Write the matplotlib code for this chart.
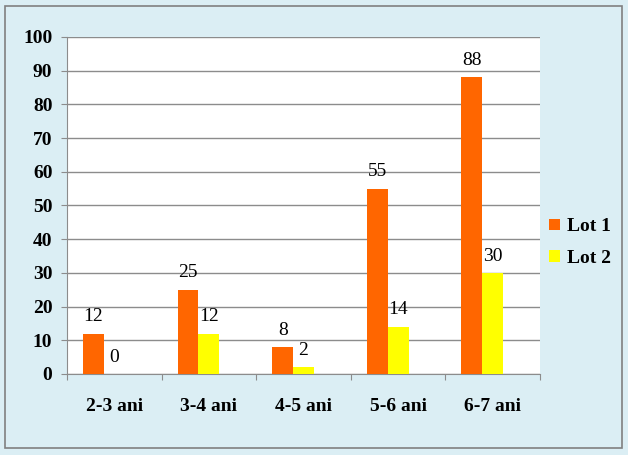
import matplotlib
matplotlib.use('Agg')
import matplotlib.pyplot as plt
from matplotlib.patches import Rectangle
import numpy as np

plt.rcParams['font.family'] = 'Liberation Serif'

# date
categorii = ['2-3 ani', '3-4 ani', '4-5 ani', '5-6 ani', '6-7 ani']
lot1 = [12, 25, 8, 55, 88]
lot2 = [0, 12, 2, 14, 30]

fig = plt.figure(figsize=(6.28, 4.55), dpi=100)
fig.patch.set_facecolor('#DBEEF4')
fig.patches.append(Rectangle((0.008, 0.015), 0.982, 0.972, transform=fig.transFigure,
                             fill=False, edgecolor='#808080', linewidth=1.2))

ax = fig.add_axes([67/628, 1-374/455, 473/628, 337/455])
ax.set_facecolor('white')

x = np.arange(len(categorii))
w = 0.22
b1 = ax.bar(x - w/2 - 0.11, lot1, w, color='#FF6600', label='Lot 1', zorder=3)
b2 = ax.bar(x + w/2 - 0.11, lot2, w, color='#FFFF00', label='Lot 2', zorder=3)

for bars in (b1, b2):
    for r in bars:
        ax.annotate(str(int(r.get_height())), (r.get_x() + r.get_width()/2, r.get_height()),
                    xytext=(0, 6), textcoords='offset points', ha='center', va='bottom',
                    fontsize=14)

ax.set_ylim(0, 100)
ax.set_xlim(-0.5, 4.5)
ax.set_yticks(range(0, 101, 10))
ax.set_yticklabels([str(v) for v in range(0, 101, 10)], fontsize=14, fontweight='bold')
ax.yaxis.grid(True, color='#8C8C8C', linewidth=1, zorder=0)
ax.tick_params(axis='y', length=4.5, color='#8C8C8C', pad=6)

ax.set_xticks(np.arange(-0.5, 5, 1))
ax.set_xticklabels([])
ax.set_xticks(x, minor=True)
ax.set_xticklabels(categorii, minor=True, fontsize=14, fontweight='bold')
ax.tick_params(axis='x', which='major', length=4.5, color='#8C8C8C')
ax.tick_params(axis='x', which='minor', length=0, pad=17)

for s in ['top', 'right']:
    ax.spines[s].set_visible(False)
for s in ['left', 'bottom']:
    ax.spines[s].set_color('#8C8C8C')

leg = ax.legend(loc='center left', bbox_to_anchor=(0.99, 0.39), frameon=False,
                prop={'size': 14, 'weight': 'bold'}, handlelength=0.55, handleheight=0.55,
                labelspacing=0.75, handletextpad=0.4, borderpad=0.2)

plt.savefig('out.png', dpi=100, facecolor=fig.get_facecolor())
